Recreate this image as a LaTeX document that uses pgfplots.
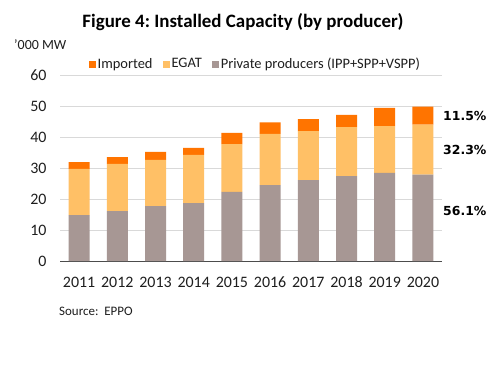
\documentclass[border=0pt]{standalone}
\usepackage{pgfplots}
\pgfplotsset{compat=1.18}
\usepackage{fontspec}
\setmainfont{Carlito}
\newfontfamily\pctfont{DejaVu Sans}
\definecolor{imp}{RGB}{255,116,0}
\definecolor{egat}{RGB}{255,192,102}
\definecolor{priv}{RGB}{167,151,148}
\definecolor{gridc}{RGB}{217,217,217}
\definecolor{txt}{RGB}{30,30,30}
\frenchspacing
\begin{document}
\begin{tikzpicture}[x=1bp,y=1bp]
\path[use as bounding box, fill=white] (0,0) rectangle (500,377);
\begin{axis}[
  at={(60bp,116bp)}, anchor=south west,
  scale only axis, width=382bp, height=186bp,
  xmin=-0.5, xmax=9.5, ymin=0, ymax=60,
  ybar stacked, bar width=21bp,
  xtick={0,...,9},
  xticklabels={2011,2012,2013,2014,2015,2016,2017,2018,2019,2020},
  ytick={0,10,...,60},
  ymajorgrids, grid style={gridc, line width=0.8bp},
  separate axis lines,
  axis x line*=bottom, axis y line*=left,
  x axis line style={draw=black!70, line width=1bp, -},
  y axis line style={draw=none},
  major tick length=0,
  tick label style={font=\fontsize{16}{16}\selectfont, text=txt},
  yticklabel style={xshift=-10bp},
  xticklabel style={anchor=base, yshift=-26bp, text depth=0pt},
  /pgf/number format/assume math mode=true,
  legend style={at={(0.068,1.059)}, anchor=west, draw=none, fill=none,
    legend columns=-1, font=\fontsize{14.5}{14.5}\selectfont,
    column sep=0pt,
    nodes={inner sep=1.5bp, text=txt}},
  legend image code/.code={\fill[#1] (0bp,-3.5bp) rectangle (7bp,3.5bp);},
  reverse legend,
]
\addplot[fill=priv, draw=none] coordinates {(0,14.8) (1,16.1) (2,17.7) (3,18.7) (4,22.3) (5,24.5) (6,26.1) (7,27.4) (8,28.4) (9,27.9)};
\addplot[fill=egat, draw=none] coordinates {(0,14.9) (1,15.2) (2,14.9) (3,15.5) (4,15.4) (5,16.5) (6,15.8) (7,15.8) (8,15.1) (9,16.1)};
\addplot[fill=imp, draw=none] coordinates {(0,2.2) (1,2.2) (2,2.6) (3,2.3) (4,3.6) (5,3.7) (6,3.9) (7,3.9) (8,5.9) (9,5.8)};
\legend{Private producers (IPP+SPP+VSPP),EGAT\hspace*{9bp},Imported\hspace*{9bp}}
\end{axis}
\node[anchor=center] at (243,355) {\fontsize{19}{19}\selectfont\bfseries Figure 4: Installed Capacity (by producer)};
\node[anchor=west, inner sep=0, text=txt] at (14,332) {\fontsize{14}{14}\selectfont ’000 MW};
\node[anchor=west, inner sep=0, text=txt] at (59,66) {\fontsize{13}{13}\selectfont Source:\ \ EPPO};
\node[anchor=west, inner sep=0] at (443,261) {\pctfont\fontsize{12.5}{12.5}\selectfont\bfseries 11.5\%};
\node[anchor=west, inner sep=0] at (443,227) {\pctfont\fontsize{12.5}{12.5}\selectfont\bfseries 32.3\%};
\node[anchor=west, inner sep=0] at (443,166) {\pctfont\fontsize{12.5}{12.5}\selectfont\bfseries 56.1\%};
\end{tikzpicture}
\end{document}
